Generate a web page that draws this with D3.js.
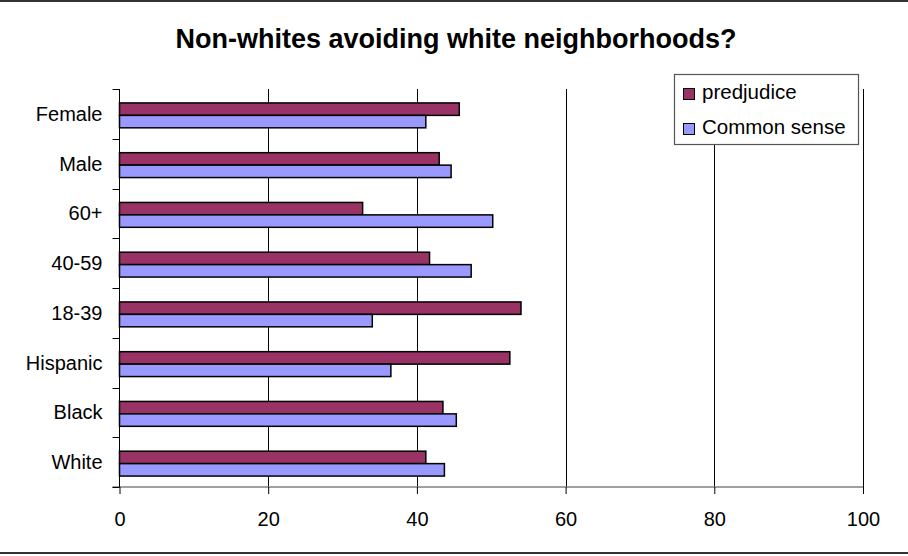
<!DOCTYPE html>
<html>
<head>
<meta charset="utf-8">
<script src="https://cdn.jsdelivr.net/npm/d3@7"></script>
<style>
  html, body { margin: 0; padding: 0; background: #fff; }
  svg { display: block; font-family: "Liberation Sans", Arial, sans-serif; }
</style>
</head>
<body>
<svg id="chart" width="908" height="556"></svg>
<script>
// Survey groups, listed top to bottom
const categories = ["Female", "Male", "60+", "40-59", "18-39", "Hispanic", "Black", "White"];
// Percent of respondents attributing it to each reason
const prejudice   = [45.7, 43.0, 32.7, 41.7, 54.0, 52.5, 43.5, 41.2];
const commonSense = [41.2, 44.6, 50.2, 47.3, 34.0, 36.5, 45.3, 43.7];
const seriesNames = ["predjudice", "Common sense"];
const xTicks = [0, 20, 40, 60, 80, 100];

const colors = ["#993366", "#9999FF"];
const seriesValues = [prejudice, commonSense];

const svg = d3.select("#chart");
const W = 908, H = 556;
const plot = { left: 119.5, right: 863, top: 89, bottom: 487 };

// Outer frame
svg.append("rect")
  .attr("x", -2).attr("y", 1)
  .attr("width", W + 4).attr("height", 552)
  .attr("fill", "#fff")
  .attr("stroke", "#333").attr("stroke-width", 2);

// Title
svg.append("text")
  .attr("x", 456).attr("y", 48)
  .attr("text-anchor", "middle")
  .attr("font-size", 27).attr("font-weight", "bold")
  .text("Non-whites avoiding white neighborhoods?");

const x = d3.scaleLinear().domain([0, 100]).range([plot.left, plot.right]);
const y = d3.scaleBand().domain(categories)
  .range([plot.top, plot.bottom])
  .paddingInner(0.5).paddingOuter(0.25);
const ySub = d3.scaleBand().domain(d3.range(seriesNames.length))
  .range([0, y.bandwidth()]);

// Vertical gridlines
svg.append("g")
  .selectAll("line")
  .data(xTicks.filter(t => t > 0))
  .join("line")
  .attr("x1", d => Math.round(x(d)) + 0.5).attr("x2", d => Math.round(x(d)) + 0.5)
  .attr("y1", plot.top).attr("y2", plot.bottom)
  .attr("stroke", "#000").attr("stroke-width", 1);

// Bars
const rows = categories.map((c, i) => ({ cat: c, vals: seriesValues.map(s => s[i]) }));
const groups = svg.append("g").selectAll("g")
  .data(rows)
  .join("g")
  .attr("transform", d => `translate(0,${y(d.cat) + 1.5})`);

groups.selectAll("rect")
  .data(d => d.vals.map((v, k) => ({ v, k })))
  .join("rect")
  .attr("x", x(0))
  .attr("y", d => ySub(d.k))
  .attr("width", d => x(d.v) - x(0))
  .attr("height", ySub.bandwidth())
  .attr("fill", d => colors[d.k])
  .attr("stroke", "#000").attr("stroke-width", 1.5);

// X axis
const xAxis = svg.append("g")
  .attr("transform", `translate(0,${plot.bottom})`)
  .call(d3.axisBottom(x).tickValues(xTicks).tickSize(7).tickPadding(18).tickFormat(d3.format("d")));
xAxis.select(".domain").attr("stroke", "#808080").attr("stroke-width", 1.5)
  .attr("d", `M${plot.left - 7},0H${plot.right}`);
xAxis.selectAll(".tick line").attr("stroke", "#000");
xAxis.selectAll(".tick text").attr("font-size", 20).attr("fill", "#000")
  .attr("font-family", "'Liberation Sans', Arial, sans-serif");

// Y axis: ticks sit on category boundaries
const boundaries = d3.range(categories.length + 1)
  .map(i => plot.top + i * (plot.bottom - plot.top) / categories.length);
const yAxisG = svg.append("g");
yAxisG.append("line")
  .attr("x1", plot.left).attr("x2", plot.left)
  .attr("y1", plot.top).attr("y2", plot.bottom)
  .attr("stroke", "#000");
yAxisG.selectAll("line.tk")
  .data(boundaries)
  .join("line").attr("class", "tk")
  .attr("x1", plot.left - 7).attr("x2", plot.left)
  .attr("y1", d => Math.round(d) + 0.5).attr("y2", d => Math.round(d) + 0.5)
  .attr("stroke", "#000");
yAxisG.selectAll("text")
  .data(categories)
  .join("text")
  .attr("x", plot.left - 17)
  .attr("y", d => y(d) + y.bandwidth() / 2 + 7)
  .attr("text-anchor", "end")
  .attr("font-size", 20)
  .text(d => d);

// Legend
const legend = svg.append("g");
legend.append("rect")
  .attr("x", 674.5).attr("y", 74.5)
  .attr("width", 184).attr("height", 70)
  .attr("fill", "#fff")
  .attr("stroke", "#555").attr("stroke-width", 1.2);
seriesNames.forEach((name, k) => {
  const yy = 88 + k * 35;
  legend.append("rect")
    .attr("x", 683.5).attr("y", yy + 0.5)
    .attr("width", 11).attr("height", 11)
    .attr("fill", colors[k])
    .attr("stroke", "#000").attr("stroke-width", 1);
  legend.append("text")
    .attr("x", 702).attr("y", yy + 10.5)
    .attr("font-size", 20.5)
    .text(name);
});
</script>
</body>
</html>
